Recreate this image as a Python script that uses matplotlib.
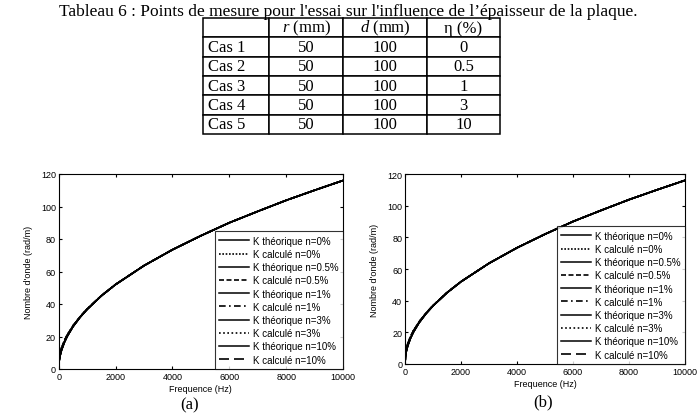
import numpy as np
import matplotlib.pyplot as plt

plt.rcParams['mathtext.fontset'] = 'custom'
plt.rcParams['mathtext.rm'] = 'Liberation Serif'
plt.rcParams['mathtext.it'] = 'Liberation Serif:italic'

# table data
col_labels = ["", "$r$ (mm)", "$d$ (mm)", "η (%)"]
cases = ["Cas 1", "Cas 2", "Cas 3", "Cas 4", "Cas 5"]
r_mm = ["50", "50", "50", "50", "50"]
d_mm = ["100", "100", "100", "100", "100"]
eta = ["0", "0.5", "1", "3", "10"]

# curves (all cases overlap)
freq = [0, 20, 50, 100, 200, 300, 500, 750, 1000, 1500, 2000, 3000,
        4000, 5000, 6000, 7000, 8000, 9000, 10000]
k_theo = [0, 5.2, 8.2, 11.6, 16.4, 20.1, 26.0, 31.8, 36.7, 45.0, 52.0, 63.6,
          73.4, 82.0, 90.0, 97.0, 103.8, 110.0, 116.0]
k_calc = [0, 6.6, 9.6, 12.9, 17.4, 20.9, 26.5, 32.1, 36.9, 45.1, 52.0, 63.6,
          73.4, 82.0, 90.0, 97.0, 103.8, 110.0, 116.0]
etas = ["0", "0.5", "1", "3", "10"]
calc_styles = [(0, (1, 1)), (0, (3, 1.5)), (0, (4, 2, 1, 2)), (0, (1, 1.5)), (0, (6, 3))]

W, H = 697, 414
fig = plt.figure(figsize=(W / 100, H / 100), dpi=100)

fig.text(348 / W, 1 - 12 / H,
         "Tableau 6 : Points de mesure pour l'essai sur l'influence de l’épaisseur de la plaque.",
         ha="center", va="center", family="Liberation Serif", fontsize=12.5)

# table
tax = fig.add_axes([203 / W, 1 - 135 / H, (500 - 203) / W, (135 - 19) / H])
tax.axis("off")
rows = [col_labels] + [[c, a, b, e] for c, a, b, e in zip(cases, r_mm, d_mm, eta)]
widths = np.array([66, 74, 84, 73]) / 297
tbl = tax.table(cellText=rows, colWidths=list(widths), bbox=[0, 0, 1, 1], cellLoc="center")
tbl.auto_set_font_size(False)
for (i, j), cell in tbl.get_celld().items():
    cell.set_linewidth(1.1)
    cell.get_text().set_fontfamily("Liberation Serif")
    cell.get_text().set_fontsize(12)
    if j == 0:
        cell.get_text().set_ha("left")
        cell.PAD = 0.08

def draw_panel(rect, ylabel):
    ax = fig.add_axes(rect)
    for n, ls in zip(etas, calc_styles):
        ax.plot(freq, k_theo, color="black", lw=1.1, ls="-", label=f"K théorique n={n}%")
        ax.plot(freq, k_calc, color="black", lw=1.2, ls=ls, label=f"K calculé n={n}%")
    ax.set_xlim(0, 10000)
    ax.set_ylim(0, 120)
    ax.set_xticks(range(0, 10001, 2000))
    ax.set_yticks(range(0, 121, 20))
    ax.tick_params(direction="in", top=True, right=True, length=2.5, labelsize=6.5, pad=2)
    for lab in ax.get_xticklabels() + ax.get_yticklabels():
        lab.set_fontfamily("Liberation Sans")
    ax.set_xlabel("Frequence (Hz)", fontsize=6.5, family="Liberation Sans", labelpad=2)
    ax.set_ylabel(ylabel, fontsize=6.5, family="Liberation Sans", labelpad=6)
    for s in ax.spines.values():
        s.set_linewidth(0.8)
    leg = ax.legend(loc="lower right", borderaxespad=0, frameon=True,
                    fancybox=False, edgecolor="black", handlelength=3.1, handletextpad=0.4,
                    labelspacing=0.33, borderpad=0.45,
                    prop={"family": "Liberation Sans", "size": 7})
    leg.get_frame().set_linewidth(0.8)
    return ax

draw_panel([58.7 / W, 1 - 370 / H, (343 - 58.7) / W, (370 - 175) / H], "Nombre d'onde (rad/m)")
draw_panel([405 / W, 1 - 365 / H, (685 - 405) / W, (365 - 175) / H], "Nombre d'onde (rad/m)")

fig.text(190 / W, 1 - 405 / H, "(a)", ha="center", va="center", family="Liberation Serif", fontsize=12)
fig.text(543 / W, 1 - 402 / H, "(b)", ha="center", va="center", family="Liberation Serif", fontsize=12)

plt.savefig("out.png", dpi=100)
